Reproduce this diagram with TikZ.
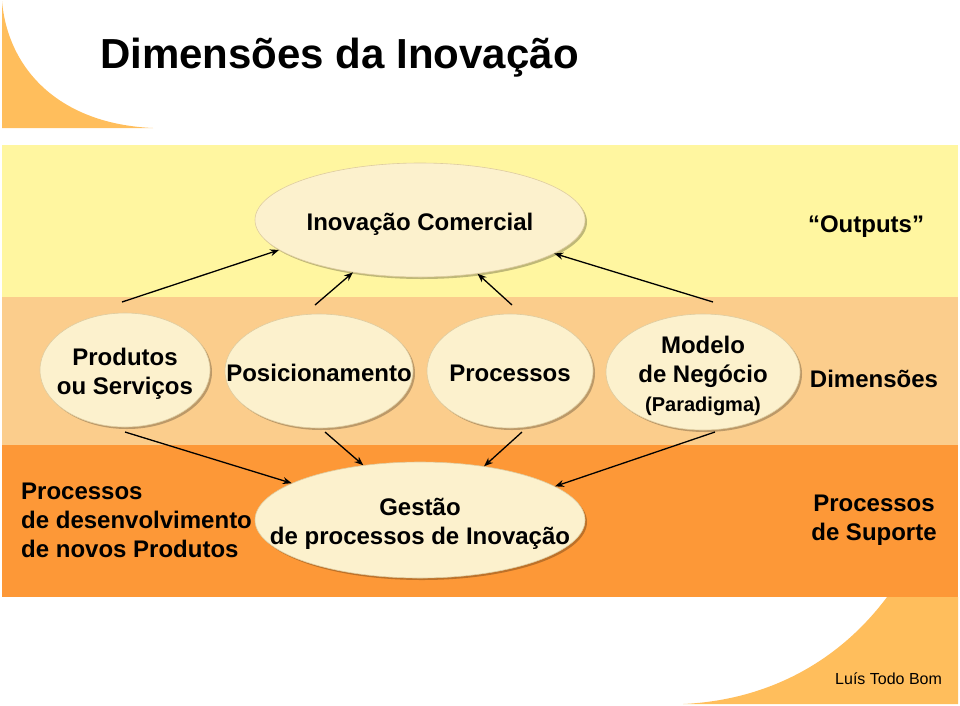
\documentclass[tikz,border=0pt]{standalone}
\usepackage{fontspec}
\setmainfont{Liberation Sans}
\usetikzlibrary{shapes.geometric,arrows.meta,shadows}
\definecolor{bandY}{RGB}{255,246,160}
\definecolor{bandL}{RGB}{251,205,140}
\definecolor{bandO}{RGB}{253,152,55}
\definecolor{deco}{RGB}{255,190,92}
\definecolor{cream}{RGB}{252,241,205}
\definecolor{creamedge}{RGB}{222,204,160}
\newcommand\zt[1]{\vbox to 0pt{\vss\hbox to 0pt{\hss\begin{tabular}{@{}c@{}}#1\end{tabular}\hss}\kern-9pt\vss}}
\tikzset{
  ell/.style={ellipse, fill=cream, draw=creamedge, line width=0.6pt, inner sep=0pt,
    drop shadow={shadow xshift=2pt, shadow yshift=-2pt, fill=black, opacity=.25},
    font=\bfseries\fontsize{24}{29}\selectfont},
  lbl/.style={font=\bfseries\fontsize{24}{29}\selectfont, inner sep=0pt},
  arr/.style={line width=1.3pt, -{Stealth[length=9pt,width=7pt]}}
}
\begin{document}
\begin{tikzpicture}[x=1pt,y=-1pt]
\useasboundingbox (0,0) rectangle (960,705);
% decorations
\fill[deco] (2,1) .. controls (8,70) and (60,124) .. (153,128) -- (2,128) -- cycle;
\fill[deco] (958,597) -- (887,597) .. controls (840,660) and (770,700) .. (683,704) -- (958,704) -- cycle;
% bands
\fill[bandY] (2,145) rectangle (958,297);
\fill[bandL] (2,297) rectangle (958,445);
\fill[bandO] (2,445) rectangle (958,597);
% title
\node[anchor=base west, inner sep=0pt, font=\bfseries\fontsize{42}{50}\selectfont] (title) at (100,68) {Dimensões da Inovação};
\node[anchor=base west, inner sep=0pt, font=\fontsize{16}{19}\selectfont] (author) at (835,684) {Luís Todo Bom};
% ellipses
\node[ell, minimum width=330pt, minimum height=114pt] (top) at (420,220) {\zt{Inovação Comercial}};
\node[ell, minimum width=170pt, minimum height=114pt] (prod) at (125,370) {\zt{Produtos\\ou Serviços}};
\node[ell, minimum width=188pt, minimum height=114pt] (posi) at (319,371) {\zt{Posicionamento}};
\node[ell, minimum width=166pt, minimum height=114pt] (proc) at (510,371) {\zt{Processos}};
\node[ell, minimum width=194pt, minimum height=116pt] (mod) at (703,372) {\zt{Modelo\\de Negócio\\{\fontsize{20}{24}\selectfont(Paradigma)}}};
\node[ell, minimum width=330pt, minimum height=116pt] (gest) at (420,520) {\zt{Gestão\\de processos de Inovação}};
% labels
\node[lbl] (outp) at (866,227) {“Outputs”};
\node[lbl] (dims) at (874,379) {Dimensões};
\node[lbl, anchor=west, align=left] (pdes) at (21,520) {Processos\\de desenvolvimento\\de novos Produtos};
\node[lbl, align=center] (psup) at (874,520) {Processos\\de Suporte};
% arrow starts
\coordinate (a1) at (122,302);
\coordinate (a2) at (315,305);
\coordinate (a3) at (512,305);
\coordinate (a4) at (713,302);
\coordinate (b1) at (125,432);
\coordinate (b2) at (325,432);
\coordinate (b3) at (522,432);
\coordinate (b4) at (715,432);
\draw[arr] (a1) -- (top.192.9);
\draw[arr] (a2) -- (top.218);
\draw[arr] (a3) -- (top.317.5);
\draw[arr] (a4) -- (top.346.9);
\draw[arr] (b1) -- (gest.164.9);
\draw[arr] (b2) -- (gest.136);
\draw[arr] (b3) -- (gest.40.5);
\draw[arr] (b4) -- (gest.14.4);
\end{tikzpicture}
\end{document}
